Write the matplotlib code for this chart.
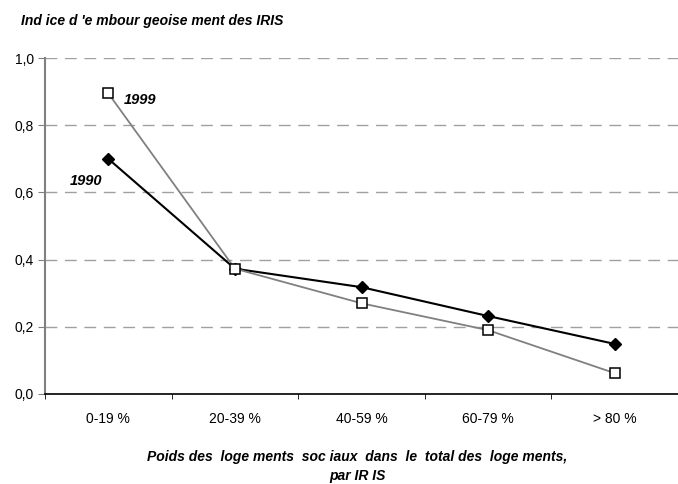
import matplotlib
matplotlib.use('Agg')
import matplotlib.pyplot as plt
import numpy as np

plt.rcParams['font.family'] = ['Liberation Sans', 'DejaVu Sans']

categories = ['0-19 %', '20-39 %', '40-59 %', '60-79 %', '> 80 %']
ind_1990 = [0.70, 0.373, 0.318, 0.232, 0.149]
ind_1999 = [0.895, 0.373, 0.27, 0.19, 0.062]
yticks = [0.0, 0.2, 0.4, 0.6, 0.8, 1.0]
ytick_labels = ['0,0', '0,2', '0,4', '0,6', '0,8', '1,0']

fig = plt.figure(figsize=(6.78, 4.84), dpi=100)
ax = fig.add_axes([0.0664, 0.186, 0.9336, 0.694])

x = np.arange(len(categories))
ax.plot(x, ind_1990, color='black', lw=1.5, marker='D', ms=6.5,
        mfc='black', mec='black', zorder=3)
ax.plot(x, ind_1999, color='#808080', lw=1.3, marker='s', ms=7,
        mfc='white', mec='black', mew=1.1, zorder=4)

# series names next to the first points
ax.text(0.12, ind_1999[0] - 0.02, '1999', fontsize=10.5, fontweight='bold',
        fontstyle='italic', va='center', ha='left')
ax.text(-0.05, ind_1990[0] - 0.065, '1990', fontsize=10.5, fontweight='bold',
        fontstyle='italic', va='center', ha='right')

ax.set_xlim(-0.5, 4.407)
ax.set_ylim(0, 1.0)
ax.set_yticks(yticks)
ax.set_yticklabels(ytick_labels, fontsize=10)
ax.set_xticks(x)
ax.set_xticklabels(categories, fontsize=10)
ax.set_xticks(np.arange(len(categories) + 1) - 0.5, minor=True)
ax.tick_params(axis='x', which='major', length=0, pad=13)
ax.tick_params(axis='x', which='minor', length=3.5, direction='out', color='black')
ax.tick_params(axis='y', length=5, direction='out', color='#808080', pad=3)

ax.grid(axis='y', color='#a0a0a0', linestyle=(0, (8.5, 5.5)), lw=1.0)
ax.set_axisbelow(True)
for side in ['top', 'right']:
    ax.spines[side].set_visible(False)
ax.spines['left'].set_color('#808080')
ax.spines['left'].set_linewidth(1.5)
ax.spines['bottom'].set_color('black')
ax.spines['bottom'].set_linewidth(1.2)

fig.text(0.031, 0.957, "Ind ice d 'e mbour geoise ment des IRIS", fontsize=10,
         fontweight='bold', fontstyle='italic', va='center', ha='left')
fig.text(0.527, 0.056, 'Poids des  loge ments  soc iaux  dans  le  total des  loge ments,',
         fontsize=10, fontweight='bold', fontstyle='italic', ha='center', va='center')
fig.text(0.527, 0.017, 'par IR IS', fontsize=10, fontweight='bold',
         fontstyle='italic', ha='center', va='center')

fig.savefig('out.png', dpi=100)
